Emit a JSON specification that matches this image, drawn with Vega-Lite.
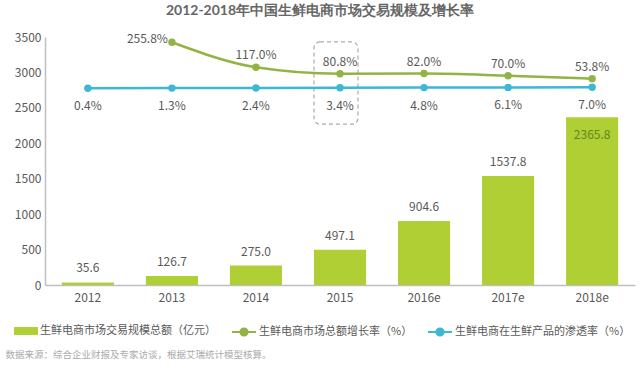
{
  "$schema": "https://vega.github.io/schema/vega-lite/v6.json",
  "width": 590,
  "height": 248,
  "autosize": "none",
  "padding": {"left": 45, "top": 37, "right": 5, "bottom": 83},
  "background": "white",
  "config": {
    "font": "Noto Sans CJK SC",
    "view": {"stroke": null},
    "axis": {"labelFont": "Noto Sans CJK SC", "titleFont": "Noto Sans CJK SC"},
    "legend": {"labelFont": "Noto Sans CJK SC"}
  },
  "title": {
    "text": "2012-2018年中国生鲜电商市场交易规模及增长率",
    "font": "Lato",
    "fontSize": 14,
    "fontWeight": 700,
    "color": "#666666",
    "anchor": "middle",
    "dx": -20,
    "offset": 13
  },
  "data": {
    "values": [
      {"year": "2012", "amount": 35.6, "amountLabel": "35.6", "growth": null, "growthLabel": "", "pen": 0.4, "penLabel": "0.4%"},
      {"year": "2013", "amount": 126.7, "amountLabel": "126.7", "growth": 255.8, "growthLabel": "255.8%", "pen": 1.3, "penLabel": "1.3%"},
      {"year": "2014", "amount": 275.0, "amountLabel": "275.0", "growth": 117.0, "growthLabel": "117.0%", "pen": 2.4, "penLabel": "2.4%"},
      {"year": "2015", "amount": 497.1, "amountLabel": "497.1", "growth": 80.8, "growthLabel": "80.8%", "pen": 3.4, "penLabel": "3.4%"},
      {"year": "2016e", "amount": 904.6, "amountLabel": "904.6", "growth": 82.0, "growthLabel": "82.0%", "pen": 4.8, "penLabel": "4.8%"},
      {"year": "2017e", "amount": 1537.8, "amountLabel": "1537.8", "growth": 70.0, "growthLabel": "70.0%", "pen": 6.1, "penLabel": "6.1%"},
      {"year": "2018e", "amount": 2365.8, "amountLabel": "2365.8", "growth": 53.8, "growthLabel": "53.8%", "pen": 7.0, "penLabel": "7.0%"}
    ]
  },
  "encoding": {
    "x": {
      "field": "year",
      "type": "nominal",
      "sort": null,
      "scale": {"paddingInner": 0.38, "paddingOuter": 0.2},
      "axis": {
        "labelAngle": 0,
        "labelFontSize": 12,
        "labelColor": "#595959",
        "labelPadding": 7,
        "ticks": false,
        "domainColor": "#bfbfbf",
        "domainWidth": 1.5,
        "title": "数据来源：综合企业财报及专家访谈，根据艾瑞统计模型核算。",
        "titleFontSize": 9.5,
        "titleFontWeight": "normal",
        "titleColor": "#aaaaaa",
        "titleAlign": "left",
        "titleBaseline": "middle",
        "titleX": -40,
        "titleY": 69
      }
    }
  },
  "layer": [
    {
      "layer": [
        {
          "mark": {"type": "bar"},
          "encoding": {
            "y": {
              "field": "amount",
              "type": "quantitative",
              "scale": {"domain": [0, 3500], "nice": false},
              "axis": {
                "title": null,
                "values": [0, 500, 1000, 1500, 2000, 2500, 3000, 3500],
                "format": "d",
                "grid": false,
                "ticks": false,
                "labelFontSize": 12,
                "labelColor": "#595959",
                "labelPadding": 4,
                "domainColor": "#bfbfbf",
                "domainWidth": 1.5
              }
            },
            "color": {
              "datum": "生鲜电商市场交易规模总额（亿元）",
              "scale": {"range": ["#afcf34"]},
              "legend": {
                "orient": "none",
                "legendX": -31,
                "legendY": 282,
                "title": null,
                "padding": 0,
                "labelFontSize": 11,
                "labelColor": "#595959",
                "labelLimit": 300,
                "labelOffset": 2,
                "symbolType": "M-1,-0.33H1V0.33H-1Z",
                "symbolSize": 576,
                "symbolStrokeWidth": 0
              }
            }
          }
        },
        {
          "transform": [{"filter": "datum.year != '2018e'"}],
          "mark": {"type": "text", "dy": -14, "fontSize": 12, "color": "#595959", "baseline": "middle"},
          "encoding": {
            "y": {
              "field": "amount",
              "type": "quantitative",
              "axis": {
                "title": null,
                "values": [0, 500, 1000, 1500, 2000, 2500, 3000, 3500],
                "format": "d",
                "grid": false,
                "ticks": false,
                "labelFontSize": 12,
                "labelColor": "#595959",
                "labelPadding": 4,
                "domainColor": "#bfbfbf",
                "domainWidth": 1.5
              }
            },
            "text": {"field": "amountLabel"}
          }
        },
        {
          "transform": [{"filter": "datum.year == '2018e'"}],
          "mark": {"type": "text", "dy": 18, "fontSize": 12, "color": "#66861a", "baseline": "middle"},
          "encoding": {
            "y": {
              "field": "amount",
              "type": "quantitative",
              "axis": {
                "title": null,
                "values": [0, 500, 1000, 1500, 2000, 2500, 3000, 3500],
                "format": "d",
                "grid": false,
                "ticks": false,
                "labelFontSize": 12,
                "labelColor": "#595959",
                "labelPadding": 4,
                "domainColor": "#bfbfbf",
                "domainWidth": 1.5
              }
            },
            "text": {"field": "amountLabel"}
          }
        },
        {
          "data": {"values": [{"year": "2015", "boxTop": 3430, "boxBottom": 2270}]},
          "mark": {"type": "bar", "width": 44, "xOffset": -4, "fillOpacity": 0, "stroke": "#aaaaaa", "strokeWidth": 1.2, "strokeDash": [4, 3], "cornerRadius": 6},
          "encoding": {
            "y": {
              "field": "boxTop",
              "type": "quantitative",
              "axis": {
                "title": null,
                "values": [0, 500, 1000, 1500, 2000, 2500, 3000, 3500],
                "format": "d",
                "grid": false,
                "ticks": false,
                "labelFontSize": 12,
                "labelColor": "#595959",
                "labelPadding": 4,
                "domainColor": "#bfbfbf",
                "domainWidth": 1.5
              }
            },
            "y2": {"field": "boxBottom"}
          }
        }
      ]
    },
    {
      "transform": [{"filter": "datum.growth != null"}],
      "layer": [
        {
          "mark": {"type": "line", "interpolate": "monotone", "strokeWidth": 2.5, "point": {"filled": true, "size": 55}},
          "encoding": {
            "y": {
              "field": "growth",
              "type": "quantitative",
              "scale": {"domain": [-1092, 285], "nice": false, "zero": false},
              "axis": null
            },
            "color": {
              "datum": "生鲜电商市场总额增长率（%）",
              "scale": {"range": ["#92b444"]},
              "legend": {
                "orient": "none",
                "legendX": 186,
                "legendY": 282,
                "title": null,
                "padding": 0,
                "labelFontSize": 11,
                "labelColor": "#595959",
                "labelLimit": 300,
                "labelOffset": 2,
                "symbolType": "M-1,0H1M0.3,0A0.3,0.3,0,1,1,-0.3,0A0.3,0.3,0,1,1,0.3,0",
                "symbolSize": 576,
                "symbolStrokeWidth": 2,
                "encode": {"symbols": {"update": {"fill": {"value": "#92b444"}, "stroke": {"value": "#92b444"}}}}
              }
            }
          }
        },
        {
          "transform": [{"filter": "datum.year != '2013'"}],
          "mark": {"type": "text", "dy": -12, "fontSize": 12, "color": "#595959", "baseline": "middle"},
          "encoding": {
            "y": {"field": "growth", "type": "quantitative", "axis": null},
            "text": {"field": "growthLabel"}
          }
        },
        {
          "transform": [{"filter": "datum.year == '2013'"}],
          "mark": {"type": "text", "dy": -3, "dx": -4, "align": "right", "fontSize": 12, "color": "#595959", "baseline": "middle"},
          "encoding": {
            "y": {"field": "growth", "type": "quantitative", "axis": null},
            "text": {"field": "growthLabel"}
          }
        }
      ]
    },
    {
      "layer": [
        {
          "mark": {"type": "line", "strokeWidth": 2.5, "point": {"filled": true, "size": 55}},
          "encoding": {
            "y": {
              "field": "pen",
              "type": "quantitative",
              "scale": {"domain": [-1311, 342], "nice": false, "zero": false},
              "axis": null
            },
            "color": {
              "datum": "生鲜电商在生鲜产品的渗透率（%）",
              "scale": {"range": ["#3cb8d5"]},
              "legend": {
                "orient": "none",
                "legendX": 382,
                "legendY": 282,
                "title": null,
                "padding": 0,
                "labelFontSize": 11,
                "labelColor": "#595959",
                "labelLimit": 300,
                "labelOffset": 2,
                "symbolType": "M-1,0H1M0.3,0A0.3,0.3,0,1,1,-0.3,0A0.3,0.3,0,1,1,0.3,0",
                "symbolSize": 576,
                "symbolStrokeWidth": 2,
                "encode": {"symbols": {"update": {"fill": {"value": "#3cb8d5"}, "stroke": {"value": "#3cb8d5"}}}}
              }
            }
          }
        },
        {
          "mark": {"type": "text", "dy": 18, "fontSize": 12, "color": "#595959", "baseline": "middle"},
          "encoding": {
            "y": {"field": "pen", "type": "quantitative", "axis": null},
            "text": {"field": "penLabel"}
          }
        }
      ]
    }
  ],
  "resolve": {"scale": {"y": "independent", "color": "independent"}}
}
